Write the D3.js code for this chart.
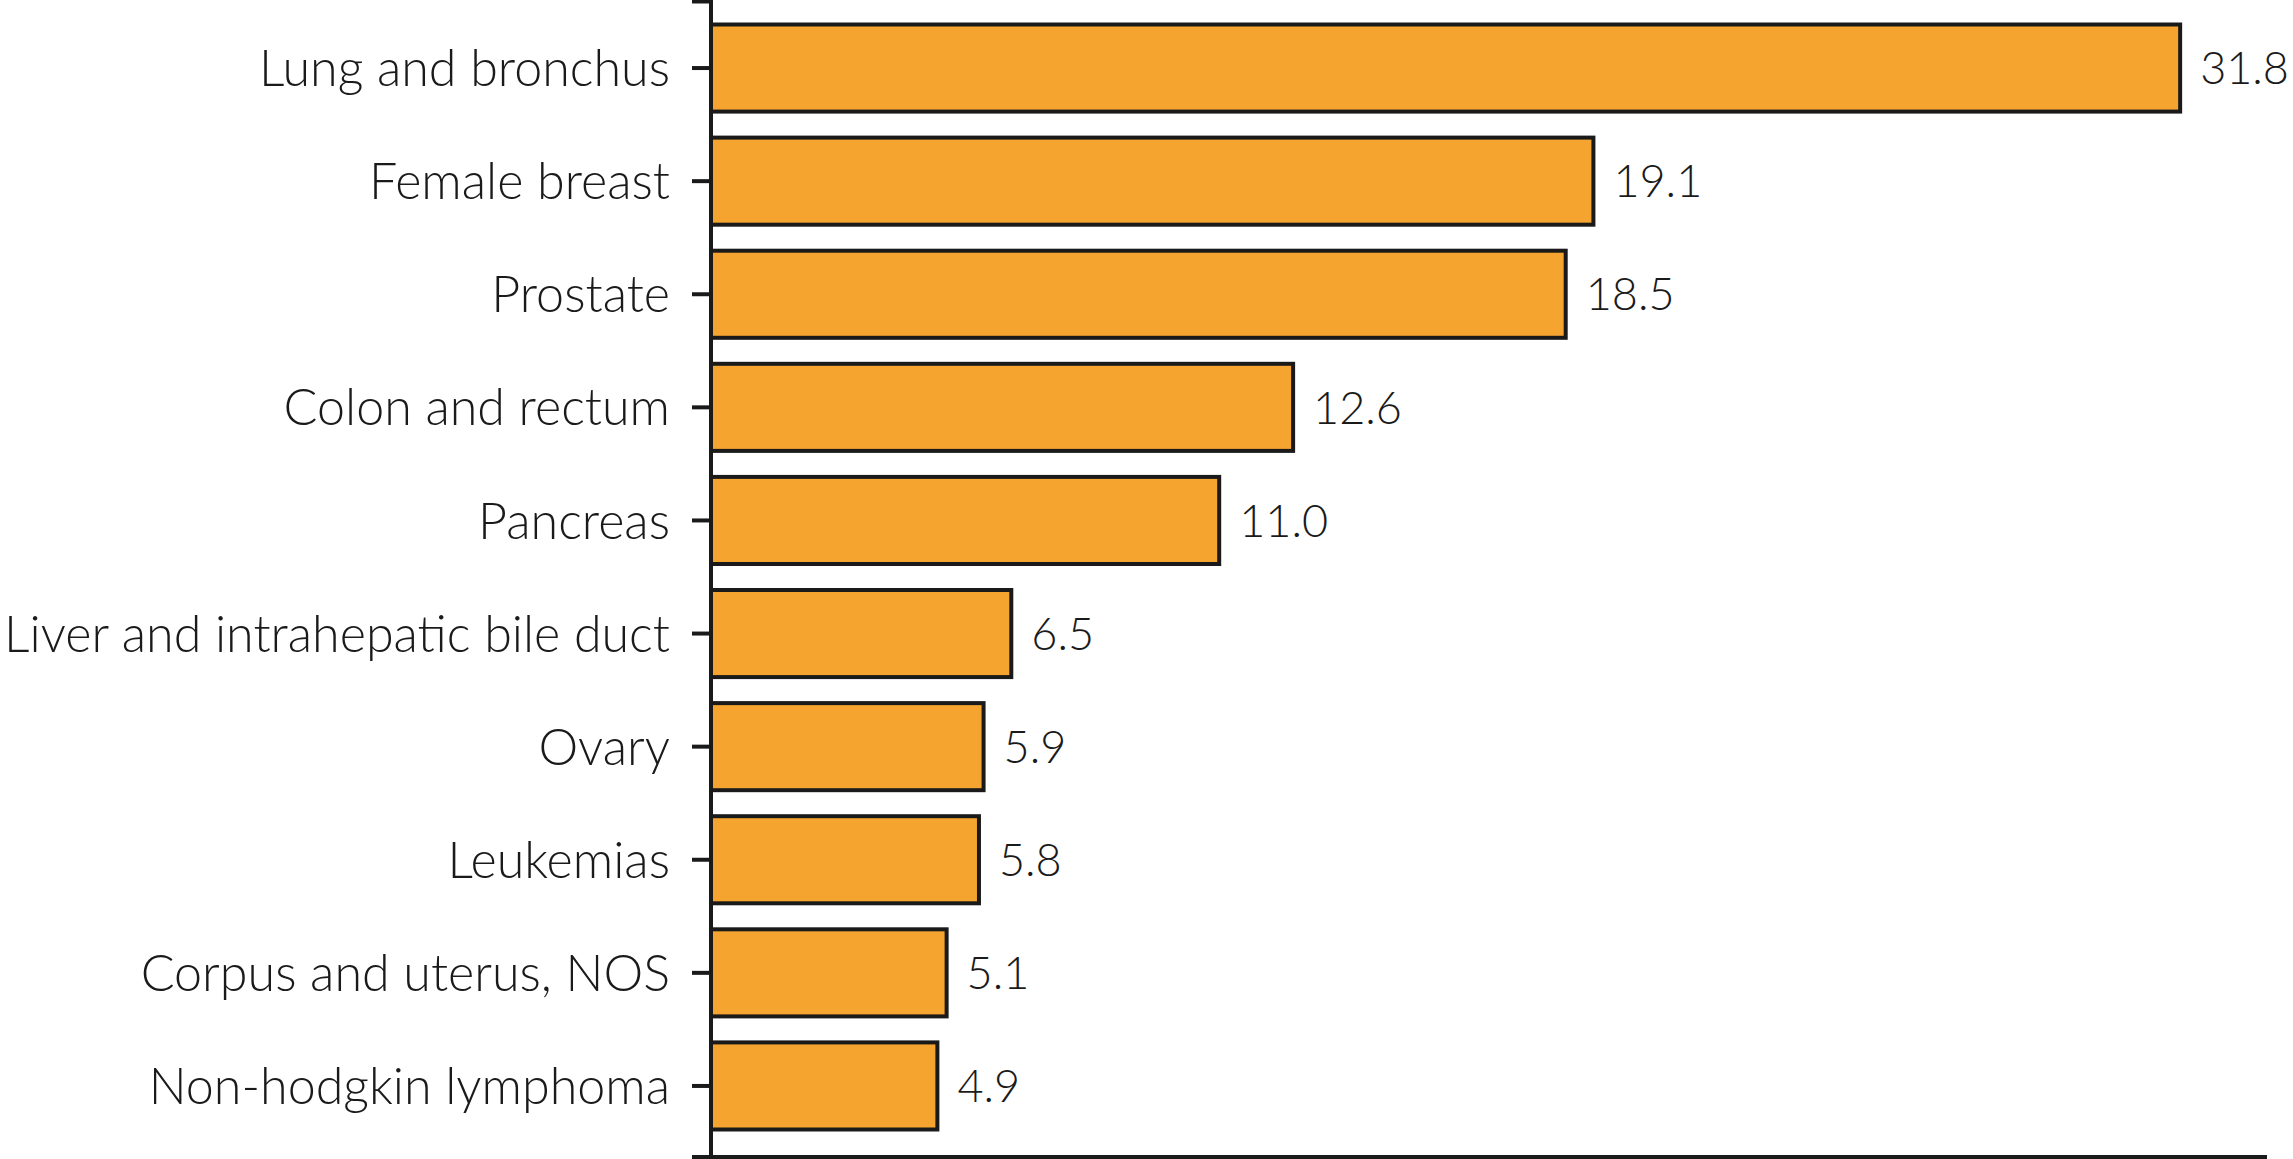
<!DOCTYPE html>
<html>
<head>
<meta charset="utf-8">
<script src="https://cdn.jsdelivr.net/npm/d3@7"></script>
<style>
  html, body { margin: 0; padding: 0; background: #fff; }
  svg { display: block; }
  .lbl { font-family: Lato, "Open Sans", sans-serif; font-weight: 300; fill: #1a1a1a; }
</style>
</head>
<body>
<svg id="chart" width="2293" height="1159"></svg>
<script>
const categories = [
  "Lung and bronchus",
  "Female breast",
  "Prostate",
  "Colon and rectum",
  "Pancreas",
  "Liver and intrahepatic bile duct",
  "Ovary",
  "Leukemias",
  "Corpus and uterus, NOS",
  "Non-hodgkin lymphoma"
];
const values = [31.8, 19.1, 18.5, 12.6, 11.0, 6.5, 5.9, 5.8, 5.1, 4.9];
const valueLabels = ["31.8", "19.1", "18.5", "12.6", "11.0", "6.5", "5.9", "5.8", "5.1", "4.9"];

const svg = d3.select("#chart");
const W = 2293;
const x0 = 711, xEnd = 2267, yTop = 0, yBase = 1157;
let fontSize = 54;

const x = d3.scaleLinear().domain([0, 33.68]).range([x0, xEnd]);
const y = d3.scaleBand().domain(categories).range([11.5, 1142.5]).paddingInner(0.23).paddingOuter(0.115);

// bars
svg.append("g").selectAll("rect").data(categories).join("rect")
  .attr("x", x(0))
  .attr("y", d => y(d))
  .attr("width", (d, i) => x(values[i]) - x(0))
  .attr("height", y.bandwidth())
  .attr("fill", "#F5A42F")
  .attr("stroke", "#1a1a1a")
  .attr("stroke-width", 4);

// y axis
const yAxis = svg.append("g").attr("transform", `translate(${x0},0)`)
  .call(d3.axisLeft(y).tickSize(19).tickSizeOuter(0).tickPadding(22));
yAxis.select(".domain").remove();
yAxis.selectAll(".tick line").attr("stroke", "#1a1a1a").attr("stroke-width", 4);
const tickText = yAxis.selectAll(".tick text")
  .attr("class", "lbl")
  .attr("font-size", fontSize)
  .attr("dy", "0.36em")
  .attr("fill", "#1a1a1a");

// fit the longest label into the space the reference gives it
let maxW = 0;
tickText.each(function () { maxW = Math.max(maxW, this.getComputedTextLength()); });
const avail = x0 - 19 - 22 - 4;
if (maxW > avail) fontSize = fontSize * avail / maxW;
tickText.attr("font-size", fontSize);

// value labels
const offset = 20;
let valSize = fontSize;
const valText = svg.append("g").selectAll("text").data(categories).join("text")
  .attr("class", "lbl")
  .attr("x", (d, i) => x(values[i]) + offset)
  .attr("y", d => y(d) + y.bandwidth() / 2)
  .attr("dy", "0.36em")
  .attr("font-size", valSize)
  .text((d, i) => valueLabels[i]);
// keep the right-most label inside the picture
let worst = 1;
valText.each(function (d, i) {
  const room = W - 4 - (x(values[i]) + offset);
  const w = this.getComputedTextLength();
  if (w > room) worst = Math.min(worst, room / w);
});
valSize = valSize * worst;
valText.attr("font-size", valSize);

// axis lines
svg.append("line").attr("x1", x0).attr("x2", x0).attr("y1", yTop).attr("y2", yBase + 2)
  .attr("stroke", "#1a1a1a").attr("stroke-width", 4);
svg.append("line").attr("x1", x0 - 19).attr("x2", x0).attr("y1", yTop + 1.5).attr("y2", yTop + 1.5)
  .attr("stroke", "#1a1a1a").attr("stroke-width", 4);
svg.append("line").attr("x1", x0 - 19).attr("x2", x(33.68)).attr("y1", yBase).attr("y2", yBase)
  .attr("stroke", "#1a1a1a").attr("stroke-width", 4);
</script>
</body>
</html>
